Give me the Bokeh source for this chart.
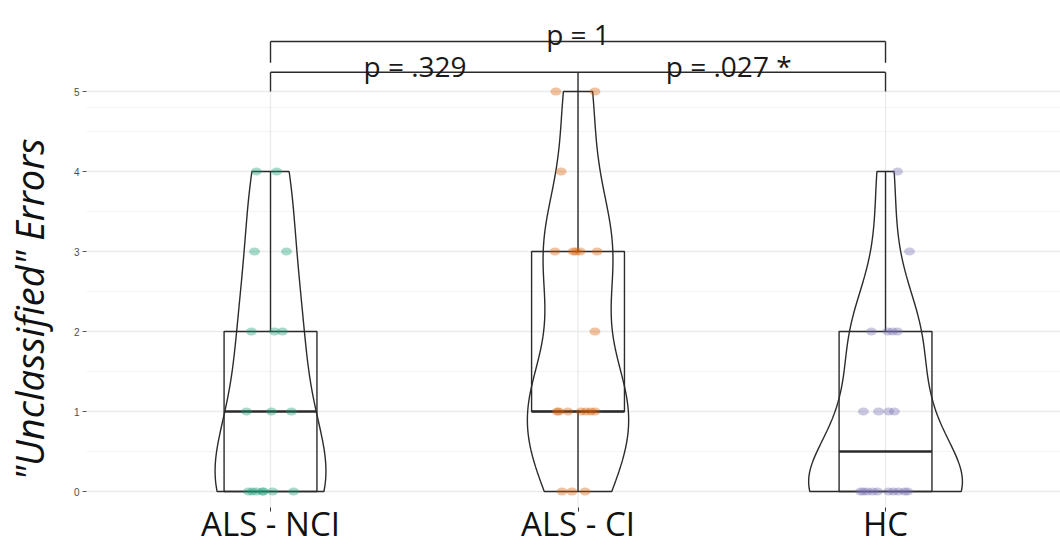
import numpy as np
from bokeh.plotting import figure
from bokeh.models import Range1d, FixedTicker, Title, ColumnDataSource
from bokeh.core.properties import value
from bokeh.embed import file_html
from bokeh.resources import INLINE

# ---------------- data ----------------
groups = ["ALS - NCI", "ALS - CI", "HC"]
group_pos = [1, 2, 3]
colors = ["#1b9e77", "#d95f02", "#7570b3"]

nci_values = [4, 4, 3, 3, 2, 2, 2, 1, 1, 1, 0, 0, 0, 0, 0, 0, 0]
nci_jitter = [-0.046, 0.020, -0.052, 0.052, -0.062, 0.013, 0.039, -0.078, 0.003, 0.068,
              -0.072, -0.059, -0.046, -0.026, -0.023, 0.007, 0.075]

ci_values = [5, 5, 4, 3, 3, 3, 3, 3, 2, 1, 1, 1, 1, 1, 1, 1, 0, 0, 0]
ci_jitter = [-0.072, 0.055, -0.055, -0.075, -0.016, -0.007, 0.007, 0.062, 0.055,
             -0.068, -0.062, -0.033, 0.010, 0.026, 0.042, 0.055, -0.052, -0.020, 0.023]

hc_values = [4, 3, 2, 2, 2, 2, 1, 1, 1, 1, 0, 0, 0, 0, 0, 0, 0, 0, 0, 0]
hc_jitter = [0.039, 0.078, -0.046, 0.007, 0.023, 0.039, -0.072, -0.023, 0.010, 0.029,
             -0.081, -0.072, -0.059, -0.042, -0.026, 0.010, 0.026, 0.042, 0.062, 0.072]

y_ticks = [0, 1, 2, 3, 4, 5]
y_minor = [0.5, 1.5, 2.5, 3.5, 4.5, 4.8]

# significance brackets
bracket_top_y = 5.625
bracket_top_tick = 5.36
bracket_low_y = 5.24
bracket_low_tick = 5.0
sig_labels = ["p = 1", "p = .329", "p = .027 *"]
sig_x = [2.0, 1.47, 2.49]
sig_y = [5.72, 5.325, 5.325]

y_title = '"Unclassified" Errors'

# ---------------- figure ----------------
p = figure(frame_width=974, frame_height=499, output_backend="svg", toolbar_location=None,
           x_range=Range1d(0.4016, 3.569), y_range=Range1d(-0.2, 6.0375),
           min_border_left=86, min_border_right=0, min_border_top=8, min_border_bottom=40)
p.outline_line_color = None
p.background_fill_color = "white"
p.border_fill_color = "white"
p.xgrid.visible = False
p.ygrid.visible = False

# grid lines (manual so they stop at 5)
x0, x1 = p.x_range.start, p.x_range.end
p.segment(x0=[x0] * len(y_ticks), x1=[x1] * len(y_ticks), y0=y_ticks, y1=y_ticks,
          line_color="#ebebeb", line_width=1.3)
p.segment(x0=[x0] * len(y_minor), x1=[x1] * len(y_minor), y0=y_minor, y1=y_minor,
          line_color="#f0f0f0", line_width=0.8)
p.segment(x0=group_pos, x1=group_pos, y0=[-0.2] * 3, y1=[5] * 3,
          line_color="#ebebeb", line_width=1.3)

# ---------------- violins, boxes, points ----------------
all_vals = [nci_values, ci_values, hc_values]
all_jit = [nci_jitter, ci_jitter, hc_jitter]

def kde(vals, grid):
    v = np.asarray(vals, dtype=float)
    n = len(v)
    sd = v.std(ddof=1)
    q75, q25 = np.percentile(v, [75, 25])
    lo = min(sd, (q75 - q25) / 1.34)
    bw = 0.9 * lo * n ** (-0.2)
    d = np.exp(-0.5 * ((grid[:, None] - v[None, :]) / bw) ** 2).sum(axis=1)
    return d / (n * bw * np.sqrt(2 * np.pi))

dens = []
grids = []
for vals in all_vals:
    g = np.linspace(min(vals), max(vals), 256)
    grids.append(g)
    dens.append(kde(vals, g))
dmax = max(d.max() for d in dens)
half_w = 0.25

for c, vals, g, d in zip(group_pos, all_vals, grids, dens):
    w = d / dmax * half_w
    xs = np.concatenate([c - w, (c + w)[::-1]])
    ys = np.concatenate([g, g[::-1]])
    p.patch(xs, ys, fill_alpha=0, line_color="#2b2b2b", line_width=1.4)

box_hw = 0.151
for c, vals in zip(group_pos, all_vals):
    v = np.asarray(vals, dtype=float)
    q1, med, q3 = np.percentile(v, [25, 50, 75])
    iqr = q3 - q1
    upper = v[v <= q3 + 1.5 * iqr].max()
    lower = v[v >= q1 - 1.5 * iqr].min()
    p.quad(left=[c - box_hw], right=[c + box_hw], bottom=[q1], top=[q3],
           fill_alpha=0, line_color="#2b2b2b", line_width=1.4)
    p.segment(x0=[c, c], x1=[c, c], y0=[q3, q1], y1=[upper, lower],
              line_color="#2b2b2b", line_width=1.4)
    p.segment(x0=[c - box_hw], x1=[c + box_hw], y0=[med], y1=[med],
              line_color="#2b2b2b", line_width=2.4)

for c, vals, jit, col in zip(group_pos, all_vals, all_jit, colors):
    xs = [c + j for j in jit]
    p.ellipse(x=xs, y=vals, width=11, height=8, width_units="screen", height_units="screen",
              fill_color=col, fill_alpha=0.38, line_color=None)

# ---------------- brackets ----------------
bx0 = [1, 1, 3, 1, 1, 2, 3]
bx1 = [3, 1, 3, 3, 1, 2, 3]
by0 = [bracket_top_y, bracket_top_y, bracket_top_y, bracket_low_y, bracket_low_y, bracket_low_y, bracket_low_y]
by1 = [bracket_top_y, bracket_top_tick, bracket_top_tick, bracket_low_y, bracket_low_tick, bracket_low_tick, bracket_low_tick]
p.segment(x0=bx0, x1=bx1, y0=by0, y1=by1, line_color="#2b2b2b", line_width=1.4)

src = ColumnDataSource(dict(x=sig_x, y=sig_y, t=sig_labels))
p.text(x="x", y="y", text="t", source=src, text_font=value("Open Sans"),
       text_font_size="28px", text_align="center", text_baseline="alphabetic",
       text_color="#1a1a1a")

# ---------------- axes ----------------
p.xaxis.ticker = FixedTicker(ticks=group_pos)
p.xaxis.major_label_overrides = {k: v for k, v in zip(group_pos, groups)}
p.xaxis.axis_line_color = None
p.xaxis.minor_tick_line_color = None
p.xaxis.major_tick_in = 0
p.xaxis.major_tick_out = 4
p.xaxis.major_tick_line_color = "#333333"
p.xaxis.major_label_text_font = "Open Sans"
p.xaxis.major_label_text_font_size = "33px"
p.xaxis.major_label_text_line_height = 1.0
p.xaxis.major_label_text_color = "#111111"
p.xaxis.major_label_standoff = -11

p.yaxis.ticker = FixedTicker(ticks=y_ticks, minor_ticks=[])
p.yaxis.axis_line_color = None
p.yaxis.minor_tick_line_color = None
p.yaxis.major_tick_in = 0
p.yaxis.major_tick_out = 4
p.yaxis.major_tick_line_color = "#555555"
p.yaxis.major_label_text_font = "Liberation Sans"
p.yaxis.major_label_text_font_size = "10px"
p.yaxis.major_label_text_color = "#4d4d4d"
p.yaxis.major_label_standoff = 3
p.yaxis.axis_label = " "
p.yaxis.axis_label_text_font_size = "10px"
p.yaxis.axis_label_standoff = 2

title = Title(text=y_title, align="left", offset=27, standoff=0,
              text_font="Open Sans", text_font_style="italic",
              text_font_size="38px", text_color="#111111")
p.add_layout(title, "left")

open("out.html", "w").write(file_html(p, INLINE))
